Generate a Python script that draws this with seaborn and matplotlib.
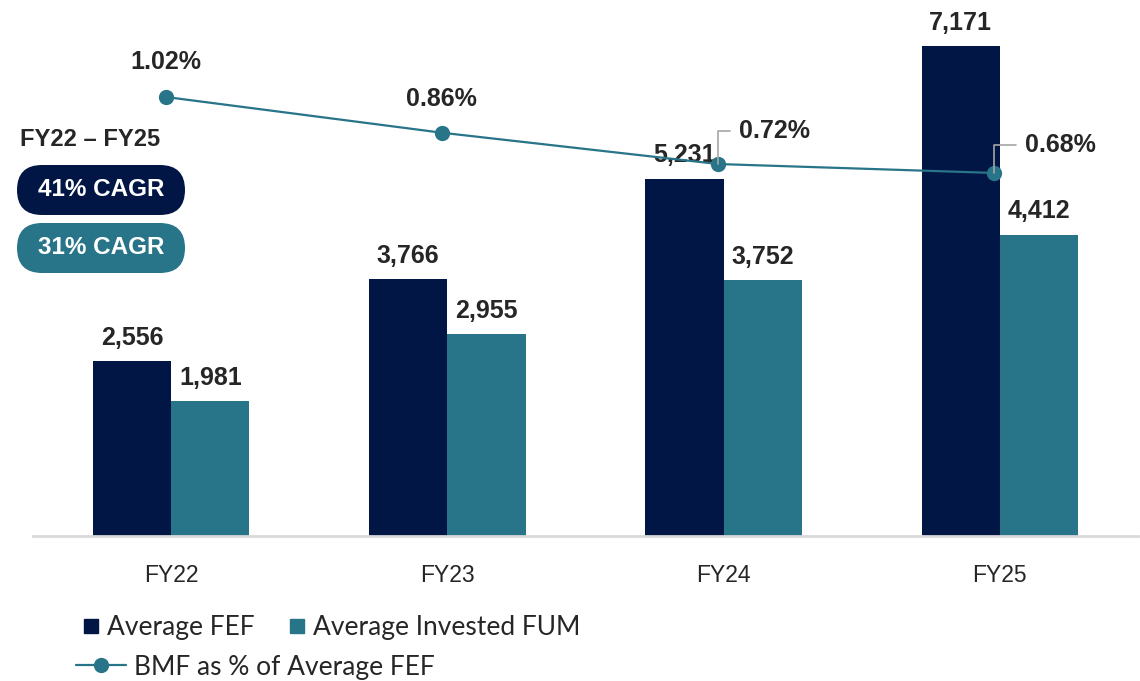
import numpy as np
import pandas as pd
import matplotlib
matplotlib.use("Agg")
import matplotlib.pyplot as plt
import seaborn as sns
from matplotlib.lines import Line2D
from matplotlib.patches import FancyBboxPatch

# data
years = ["FY22", "FY23", "FY24", "FY25"]
avg_fef = [2556, 3766, 5231, 7171]
avg_fum = [1981, 2955, 3752, 4412]
bmf_pct = [1.02, 0.86, 0.72, 0.68]
cagr_labels = ["41% CAGR", "31% CAGR"]

NAVY = "#021646"
TEAL = "#287489"

sns.set_style("white")
plt.rcParams["font.family"] = ["Liberation Sans", "DejaVu Sans"]

df = pd.DataFrame({
    "year": years * 2,
    "value": avg_fef + avg_fum,
    "series": ["Average FEF"] * 4 + ["Average Invested FUM"] * 4,
})

fig = plt.figure(figsize=(11.4, 6.81), dpi=100)
ax = fig.add_axes([33 / 1140, 145 / 681, 1105 / 1140, 526 / 681])

sns.barplot(data=df, x="year", y="value", hue="series", palette=[NAVY, TEAL],
            width=0.567, gap=0, saturation=1, linewidth=0, ax=ax, legend=False)
ax.set_xlim(-0.5, 3.5)
ax.set_ylim(0, 526 / 0.06833)

for cont in ax.containers:
    ax.bar_label(cont, labels=[f"{v:,.0f}" for v in cont.datavalues],
                 padding=8, fontsize=18, fontweight="bold")

ax.set_xlabel("")
ax.set_ylabel("")
ax.set_yticks([])
for s in ["top", "right", "left"]:
    ax.spines[s].set_visible(False)
ax.spines["bottom"].set_color("#D9D9D9")
ax.spines["bottom"].set_linewidth(2)
ax.tick_params(axis="x", length=0, pad=20, labelsize=16.5)

# BMF line on secondary axis
ax2 = ax.twinx()
xpos = np.arange(len(years)) - 0.02
sns.lineplot(x=xpos, y=bmf_pct, color=TEAL, linewidth=1.6, marker="o",
             markersize=11, markeredgewidth=0, ax=ax2)
ax2.set_ylim(-0.944, 1.409)
ax2.set_yticks([])
ax2.set_ylabel("")
for s in ax2.spines.values():
    s.set_visible(False)

# percent labels
ax2.annotate(f"{bmf_pct[0]:.2f}%", (xpos[0], bmf_pct[0]), xytext=(0, 25),
             textcoords="offset points", ha="center", va="center",
             fontsize=18, fontweight="bold")
ax2.annotate(f"{bmf_pct[1]:.2f}%", (xpos[1], bmf_pct[1]), xytext=(0, 24),
             textcoords="offset points", ha="center", va="center",
             fontsize=18, fontweight="bold")
for i, dx, dy in [(2, 15, 24), (3, 22, 20)]:
    ax2.annotate(f"{bmf_pct[i]:.2f}%", (xpos[i], bmf_pct[i]), xytext=(dx, dy),
                 textcoords="offset points", ha="left", va="center",
                 fontsize=18, fontweight="bold",
                 arrowprops=dict(arrowstyle="-", color="#A6A6A6", lw=1.2,
                                 connectionstyle="angle,angleA=0,angleB=90,rad=0",
                                 shrinkA=4, shrinkB=0))

# CAGR badges
fig.text(20 / 1140, 1 - 140 / 681, "FY22 – FY25", fontsize=17, fontweight="bold",
         ha="left", va="center")
for k, (lab, col) in enumerate(zip(cagr_labels, [NAVY, TEAL])):
    top_px = 165 + k * 58
    y_in = (681 - top_px - 50) / 100
    box = FancyBboxPatch((0.17, y_in), 1.68, 0.5,
                         boxstyle="round,pad=0,rounding_size=0.25",
                         transform=fig.dpi_scale_trans, facecolor=col,
                         edgecolor="none")
    fig.add_artist(box)
    fig.text(1.01, y_in + 0.25, lab, transform=fig.dpi_scale_trans,
             color="white", fontsize=17.5, fontweight="bold",
             ha="center", va="center")

# legends
leg_font = {"family": ["Lato", "DejaVu Sans"], "size": 19}
bar_handles = [Line2D([], [], marker="s", linestyle="none", markersize=10,
                      color=c) for c in [NAVY, TEAL]]
fig.legend(bar_handles, ["Average FEF", "Average Invested FUM"], ncol=2,
           loc="center left", bbox_to_anchor=(57 / 1140, 1 - 628 / 681),
           frameon=False, prop=leg_font, handlelength=0.8,
           handletextpad=0.2, columnspacing=1.2)
line_handle = Line2D([], [], color=TEAL, linewidth=1.6, marker="o",
                     markersize=11, markeredgewidth=0)
fig.legend([line_handle], ["BMF as % of Average FEF"],
           loc="center left", bbox_to_anchor=(52 / 1140, 1 - 667 / 681),
           frameon=False, prop=leg_font, handlelength=1.9,
           handletextpad=0.3)

fig.savefig("out.png", dpi=100)
